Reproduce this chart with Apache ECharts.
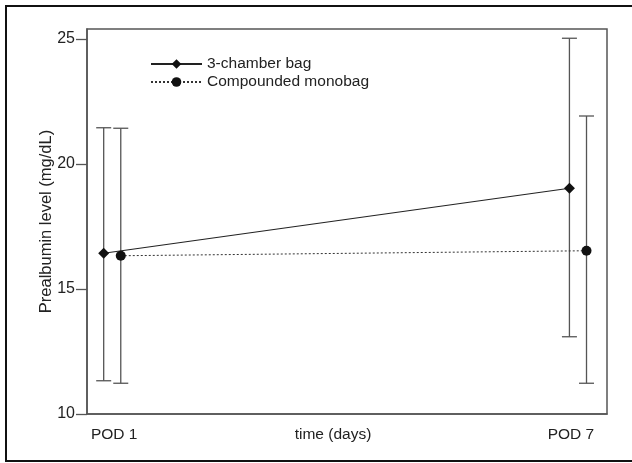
<!DOCTYPE html>
<html lang="en">
<head>
<meta charset="utf-8" />
<title>Prealbumin level</title>
<style>
	html, body { margin: 0; padding: 0; background: #fff; }
	#chart { width: 632px; height: 463px; }
</style>
</head>
<body>
<div id="chart"></div>
<script src="https://cdn.jsdelivr.net/npm/echarts@6/dist/echarts.min.js"></script>
<script>
// ---- data ----
var days = [1, 7];
var dayLabels = ['POD 1', 'POD 7'];

var chamberName = '3-chamber bag';
var chamberMean = [16.43, 19.03];
var chamberLow = [11.33, 13.09];
var chamberHigh = [21.45, 25.03];

var monoName = 'Compounded monobag';
var monoMean = [16.33, 16.53];
var monoLow = [11.23, 11.23];
var monoHigh = [21.43, 21.92];

// horizontal shift of the two groups around each day
var dodge = 0.11;
var font = 'Liberation Sans, Arial, sans-serif';

function points(shift, ys) {
	return days.map(function (d, i) { return [d + shift, ys[i]]; });
}
function bars(shift, lows, highs) {
	return days.map(function (d, i) { return [d + shift, lows[i], highs[i]]; });
}

function errorBar(params, api) {
	var x = api.value(0);
	var lo = api.coord([x, api.value(1)]);
	var hi = api.coord([x, api.value(2)]);
	var w = 7.5;
	var st = { stroke: '#555', lineWidth: 1.3 };
	return {
		type: 'group',
		children: [
			{ type: 'line', shape: { x1: hi[0], y1: hi[1], x2: lo[0], y2: lo[1] }, style: st },
			{ type: 'line', shape: { x1: hi[0] - w, y1: hi[1], x2: hi[0] + w, y2: hi[1] }, style: st },
			{ type: 'line', shape: { x1: lo[0] - w, y1: lo[1], x2: lo[0] + w, y2: lo[1] }, style: st }
		]
	};
}

var chart = echarts.init(document.getElementById('chart'));

var option = {
	animation: false,
	textStyle: { fontFamily: font, color: '#222' },
	graphic: [{
		type: 'rect',
		shape: { x: 6, y: 6, width: 632, height: 455 },
		style: { fill: 'none', stroke: '#111', lineWidth: 2 },
		silent: true
	}],
	grid: {
		left: 87, right: 25, top: 29, bottom: 49,
		outerBoundsMode: 'none',
		show: true, borderColor: '#555', borderWidth: 1.5
	},
	legend: {
		orient: 'vertical',
		left: 150, top: 56,
		padding: 0,
		itemWidth: 51, itemHeight: 12, itemGap: 2,
		data: [chamberName, monoName],
		textStyle: { fontFamily: font, fontSize: 15.5, color: '#222' }
	},
	xAxis: {
		type: 'value',
		min: 0.675, max: 7.374,
		name: 'time (days)',
		nameLocation: 'middle',
		nameGap: 13,
		nameMoveOverlap: false,
		nameTextStyle: { fontFamily: font, fontSize: 15.5, color: '#222', verticalAlign: 'top', padding: [0, 28, 0, 0] },
		axisLine: { show: true, lineStyle: { color: '#555', width: 1.5 } },
		axisTick: { show: false },
		splitLine: { show: false },
		axisLabel: {
			customValues: days,
			margin: 13,
			fontSize: 15.5,
			color: '#222',
			formatter: function (v) {
				var i = days.indexOf(v);
				return i === 0 ? '{a|' + dayLabels[i] + '}' : '{b|' + dayLabels[i] + '}';
			},
			rich: {
				a: { fontFamily: font, fontSize: 15.5, color: '#222', padding: [0, 0, 0, 4] },
				b: { fontFamily: font, fontSize: 15.5, color: '#222', padding: [0, 14, 0, 0] }
			}
		}
	},
	yAxis: {
		type: 'value',
		min: 10, max: 25.4, interval: 5,
		name: 'Prealbumin level (mg/dL)',
		nameLocation: 'middle',
		nameGap: 32,
		nameMoveOverlap: false,
		nameTextStyle: { fontFamily: font, fontSize: 16.5, color: '#222' },
		axisLine: { show: true, lineStyle: { color: '#555', width: 1.5 } },
		axisTick: { show: true, length: 11, lineStyle: { color: '#555', width: 1.3 } },
		splitLine: { show: false },
		axisLabel: {
			margin: 12, fontSize: 16, color: '#222',
			showMaxLabel: false,
			formatter: function (v) { return v % 5 === 0 ? String(v) : ''; }
		}
	},
	series: [
		{
			type: 'custom',
			renderItem: errorBar,
			data: bars(-dodge, chamberLow, chamberHigh),
			z: 1, silent: true
		},
		{
			type: 'custom',
			renderItem: errorBar,
			data: bars(dodge, monoLow, monoHigh),
			z: 1, silent: true
		},
		{
			name: chamberName,
			type: 'line',
			data: points(-dodge, chamberMean),
			symbol: 'diamond', symbolSize: 11,
			itemStyle: { color: '#111' },
			lineStyle: { color: '#222', width: 1.2, type: 'solid' },
			z: 3
		},
		{
			name: monoName,
			type: 'line',
			data: points(dodge, monoMean),
			symbol: 'circle', symbolSize: 10,
			itemStyle: { color: '#111' },
			lineStyle: { color: '#333', width: 1, type: [2, 2] },
			z: 3
		}
	]
};

chart.setOption(option);
window.onresize = function () { chart.resize(); };
</script>
</body>
</html>
